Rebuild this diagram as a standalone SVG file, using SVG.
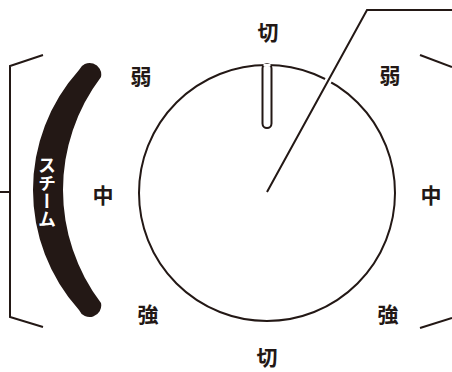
<svg xmlns="http://www.w3.org/2000/svg" width="452" height="372" viewBox="0 0 452 372">
<style>
.ln{fill:none;stroke:#231815;stroke-width:2;stroke-linecap:butt}
.lb{font-family:"Noto Sans CJK JP","Noto Sans",sans-serif;font-size:21px;font-weight:700;fill:#231815;text-anchor:middle;dominant-baseline:central}
</style>
<rect width="452" height="372" fill="#fff"/>
<g id="dial">
<circle cx="267" cy="193" r="128" class="ln"/>
<rect x="262.5" y="64" width="9" height="64" rx="4.5" class="ln" fill="#fff"/>
<line x1="263.5" y1="65" x2="270.5" y2="65" stroke="#fff" stroke-width="2.4"/>
</g>
<g id="steam">
<path d="M79,70 A179.5,179.5 0 0 0 79,310 A11.6,11.6 0 0 0 101,303 A187,187 0 0 1 101,77 A11.6,11.6 0 0 0 79,70 Z" fill="#231815"/>
<text x="47" y="192" font-family="'Noto Sans CJK JP',sans-serif" font-size="18" font-weight="700" fill="#fff" text-anchor="middle" dominant-baseline="central" writing-mode="vertical-rl" style="writing-mode:vertical-rl">スチーム</text>
</g>
<g id="labels">
<text class="lb" x="268" y="31">切</text>
<text class="lb" x="141" y="75">弱</text>
<text class="lb" x="390" y="74">弱</text>
<text class="lb" x="103" y="194">中</text>
<text class="lb" x="431" y="194">中</text>
<text class="lb" x="148" y="313">強</text>
<text class="lb" x="388" y="313">強</text>
<text class="lb" x="267" y="356">切</text>
</g>
<g id="connectors">
<polyline points="267,192 367,10 452,10" fill="none" stroke="#fff" stroke-width="7"/>
<polyline points="267,192 367,10 452,10" class="ln"/>
<polyline points="43,55 10,66 10,317 43,327" class="ln"/>
<line x1="0" y1="192" x2="10" y2="192" class="ln"/>
<line x1="420" y1="55" x2="452" y2="67" class="ln"/>
<line x1="420" y1="328" x2="452" y2="318" class="ln"/>
</g>
</svg>
